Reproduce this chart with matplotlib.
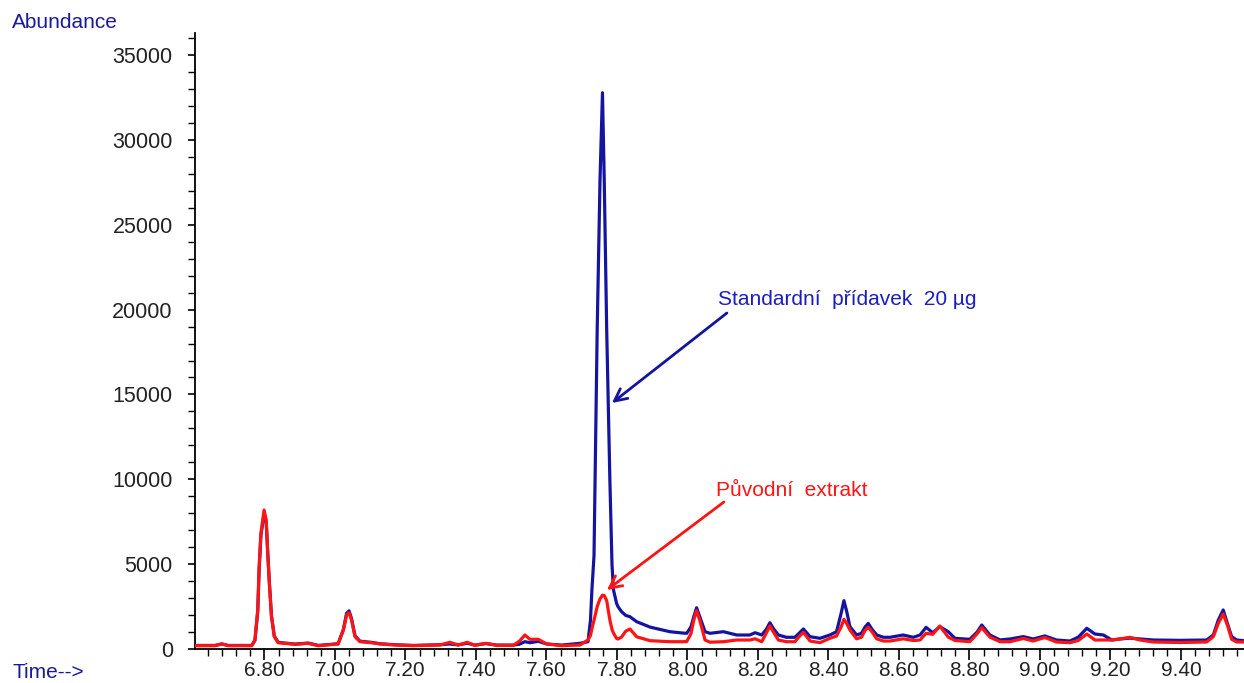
import matplotlib
matplotlib.use("Agg")
import matplotlib.pyplot as plt
from matplotlib.ticker import MultipleLocator, FixedLocator

# ---- data ----
time_min = [
    6.603, 6.660, 6.679, 6.697, 6.764, 6.773, 6.781, 6.785, 6.790, 6.799,
    6.805, 6.809, 6.814, 6.820, 6.828, 6.839, 6.887, 6.924, 6.953, 7.009,
    7.024, 7.033, 7.040, 7.047, 7.057, 7.071, 7.104, 7.128, 7.170, 7.222,
    7.298, 7.326, 7.350, 7.375, 7.397, 7.428, 7.459, 7.506, 7.523, 7.539,
    7.553, 7.577, 7.601, 7.643, 7.695, 7.718, 7.725, 7.729, 7.735, 7.738,
    7.744, 7.752, 7.759, 7.764, 7.771, 7.780, 7.786, 7.790, 7.799, 7.803,
    7.813, 7.825, 7.837, 7.856, 7.894, 7.950, 7.987, 7.998, 8.010, 8.018,
    8.026, 8.035, 8.050, 8.064, 8.102, 8.140, 8.177, 8.192, 8.211, 8.225,
    8.234, 8.244, 8.258, 8.281, 8.305, 8.320, 8.329, 8.348, 8.376, 8.404,
    8.423, 8.436, 8.444, 8.452, 8.461, 8.480, 8.494, 8.504, 8.513, 8.524,
    8.537, 8.556, 8.575, 8.612, 8.641, 8.660, 8.677, 8.696, 8.716, 8.740,
    8.759, 8.801, 8.822, 8.835, 8.858, 8.887, 8.915, 8.953, 8.981, 9.014,
    9.047, 9.085, 9.109, 9.133, 9.156, 9.180, 9.204, 9.227, 9.255, 9.284,
    9.322, 9.397, 9.473, 9.492, 9.506, 9.520, 9.532, 9.544, 9.558, 9.579,
]

abund_original = [
    195, 195, 295, 195, 195, 530, 2300, 4850, 6820, 8190,
    7600, 5830, 3870, 1900, 725, 370, 275, 335, 195, 295,
    1120, 2000, 2140, 1710, 725, 430, 370, 295, 236, 196,
    236, 393, 236, 393, 216, 334, 216, 216, 452, 825,
    570, 570, 295, 196, 236, 530, 800, 1200, 1700, 1950,
    2500, 2950, 3170, 3150, 2850, 1710, 1150, 950, 620, 590,
    700, 1050, 1180, 720, 490, 430, 430, 440, 900, 1700,
    2250, 1700, 530, 400, 430, 530, 530, 600, 430, 1000,
    1355, 1000, 530, 430, 430, 800, 980, 470, 373, 630,
    766, 1300, 1750, 1500, 1120, 600, 700, 1100, 1276, 1000,
    600, 470, 470, 600, 500, 530, 925, 865, 1355, 700,
    500, 430, 900, 1257, 700, 430, 430, 620, 470, 680,
    410, 370, 500, 884, 530, 530, 530, 590, 690, 530,
    412, 383, 412, 727, 1500, 2062, 1400, 570, 413, 413,
]

abund_standard = [
    210, 210, 300, 210, 210, 500, 2200, 4700, 6700, 7950,
    7500, 5800, 3900, 1950, 760, 390, 290, 350, 210, 310,
    1150, 2100, 2250, 1800, 780, 460, 390, 310, 250, 210,
    250, 295, 240, 340, 230, 320, 230, 230, 280, 432,
    369, 452, 295, 230, 334, 430, 1710, 3480, 5500, 9960,
    18800, 27640, 32780, 27640, 18800, 9960, 5000, 3500, 2690, 2500,
    2200, 1980, 1900, 1610, 1290, 1020, 940, 925, 1300, 1900,
    2430, 1900, 1020, 925, 1020, 825, 825, 960, 825, 1200,
    1550, 1200, 825, 690, 690, 1000, 1180, 725, 630, 825,
    1020, 2100, 2850, 2200, 1315, 825, 925, 1300, 1510, 1150,
    825, 690, 690, 825, 690, 825, 1276, 960, 1315, 1020,
    630, 570, 1000, 1414, 825, 535, 590, 730, 590, 770,
    530, 470, 700, 1220, 884, 825, 530, 590, 640, 590,
    530, 510, 530, 825, 1700, 2300, 1500, 727, 530, 490,
]

label_standard = "Standardní  přídavek  20 µg"
label_original = "Původní  extrakt"

# ---- figure ----
plt.rcParams['font.family'] = ['Liberation Sans', 'DejaVu Sans']
W, H = 1244, 683
fig = plt.figure(figsize=(W / 100, H / 100), dpi=100)
ax = fig.add_axes([195 / W, (H - 649) / H, 1 - 195 / W, (649 - 33) / H])

blue = '#1414a0'
red = '#ff1414'

ax.plot(time_min, abund_standard, color=blue, lw=2.3, solid_joinstyle='round', zorder=2)
ax.plot(time_min, abund_original, color=red, lw=2.3, solid_joinstyle='round', zorder=3)

ax.set_xlim(6.603, 9.579)
ax.set_ylim(0, 36300)

ax.spines['top'].set_visible(False)
ax.spines['right'].set_visible(False)
ax.spines['left'].set_linewidth(1.3)
ax.spines['bottom'].set_linewidth(1.3)

ax.xaxis.set_major_locator(FixedLocator([6.8, 7.0, 7.2, 7.4, 7.6, 7.8, 8.0, 8.2, 8.4, 8.6, 8.8, 9.0, 9.2, 9.4]))
ax.xaxis.set_minor_locator(MultipleLocator(0.04))
ax.yaxis.set_major_locator(MultipleLocator(5000))
ax.yaxis.set_minor_locator(MultipleLocator(1000))
ax.xaxis.set_major_formatter(plt.FuncFormatter(lambda v, p: f"{v:.2f}"))

ax.tick_params(axis='x', which='major', length=8, width=1.2, pad=1, labelsize=15, labelcolor='#222222')
ax.tick_params(axis='x', which='minor', length=5, width=1.0)
ax.tick_params(axis='y', which='major', length=5, width=1.2, pad=11, labelsize=15.5, labelcolor='#222222')
ax.tick_params(axis='y', which='minor', length=5, width=1.0)

fig.text(12 / W, 1 - 22 / H, "Abundance", color='#1a1a99', fontsize=15, ha='left', va='center')
fig.text(12 / W, 1 - 672 / H, "Time-->", color='#1a1a99', fontsize=15, ha='left', va='center')

# annotations
ax.text(8.0865, 20567, label_standard, color='#1c1cc0', fontsize=15, ha='left', va='center')
ax.annotate('', xy=(7.786, 14496), xytext=(8.112, 19800),
            arrowprops=dict(arrowstyle='->', color=blue, lw=2.0, shrinkA=0, shrinkB=0,
                            mutation_scale=22))
ax.text(8.081, 9311, label_original, color=red, fontsize=15, ha='left', va='center')
ax.annotate('', xy=(7.7716, 3477), xytext=(8.1035, 8663),
            arrowprops=dict(arrowstyle='->', color=red, lw=2.0, shrinkA=0, shrinkB=0,
                            mutation_scale=22))

fig.savefig('out.png', dpi=100)
